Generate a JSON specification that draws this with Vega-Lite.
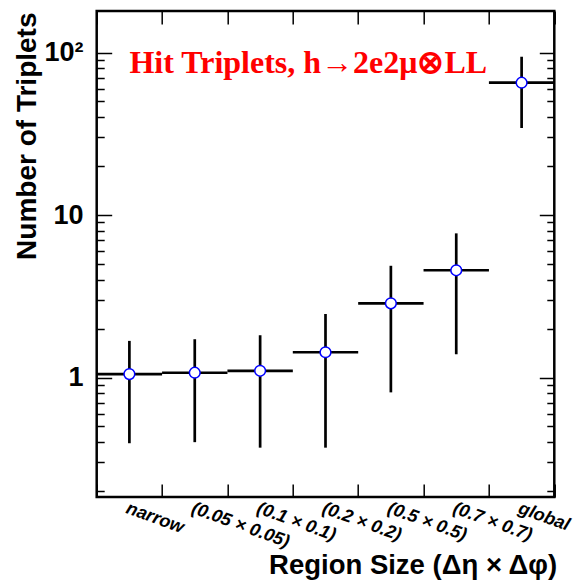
{
  "$schema": "https://vega.github.io/schema/vega-lite/v6.json",
  "width": 457.6,
  "height": 486,
  "autosize": {"type": "none"},
  "padding": {"left": 96.7, "top": 11, "right": 18.7, "bottom": 85},
  "background": "white",
  "config": {
    "view": {"stroke": "black", "strokeWidth": 2.5},
    "axis": {"grid": false, "domain": false, "tickWidth": 1.5, "labelColor": "black", "titleColor": "black"}
  },
  "datasets": {
    "pts": [
      {"region": "narrow", "value": 1.05, "lo": 0.394, "hi": 1.68},
      {"region": "(0.05 × 0.05)", "value": 1.07, "lo": 0.40, "hi": 1.72},
      {"region": "(0.1 × 0.1)", "value": 1.10, "lo": 0.37, "hi": 1.82},
      {"region": "(0.2 × 0.2)", "value": 1.43, "lo": 0.37, "hi": 2.46},
      {"region": "(0.5 × 0.5)", "value": 2.86, "lo": 0.81, "hi": 4.87},
      {"region": "(0.7 × 0.7)", "value": 4.57, "lo": 1.39, "hi": 7.71},
      {"region": "global", "value": 65.2, "lo": 34.3, "hi": 94.2}
    ],
    "note": [
      {"region": "narrow", "value": 75, "label": "Hit Triplets, h→2e2μ⊗LL"}
    ]
  },
  "layer": [
    {
      "data": {"name": "pts"},
      "mark": {"type": "rule", "strokeWidth": 2.7, "color": "black"},
      "encoding": {
        "x": {
          "field": "region", "type": "nominal",
          "scale": {"type": "band", "domain": ["narrow", "(0.05 × 0.05)", "(0.1 × 0.1)", "(0.2 × 0.2)", "(0.5 × 0.5)", "(0.7 × 0.7)", "global"], "paddingInner": 0, "paddingOuter": 0},
          "axis": {
            "orient": "bottom", "tickBand": "extent", "tickSize": -13, "tickColor": "#000000",
            "labelAngle": 20, "labelAlign": "left", "labelBaseline": "top", "labelPadding": 15,
            "labelFont": "Liberation Sans", "labelFontWeight": "bold", "labelFontStyle": "italic", "labelFontSize": 18,
            "labelOverlap": false, "labelLimit": 0, "labelBound": false,
            "title": "Region Size (Δη × Δφ)", "titleFont": "Liberation Sans", "titleFontWeight": "bold", "titleFontSize": 27.5,
            "titleX": 460, "titleY": 76.3, "titleAlign": "right", "titleBaseline": "alphabetic", "titleAnchor": null
          }
        },
        "y": {
          "field": "lo", "type": "quantitative",
          "scale": {"type": "log", "domain": [0.1839, 180.1], "nice": false},
          "axis": {
            "orient": "left",
            "values": [0.2, 0.3, 0.4, 0.5, 0.6, 0.7, 0.8, 0.9, 1, 2, 3, 4, 5, 6, 7, 8, 9, 10, 20, 30, 40, 50, 60, 70, 80, 90, 100],
            "tickColor": "#000000", "labelOverlap": false,
            "tickSize": {"condition": {"test": "datum.value == 1 || datum.value == 10 || datum.value == 100", "value": -15}, "value": -7.5},
            "labelPadding": {"condition": {"test": "datum.value == 1 || datum.value == 10 || datum.value == 100", "value": 28.7}, "value": 21.2},
            "labelExpr": "datum.value == 100 ? '10²' : (datum.value == 10 ? '10' : (datum.value == 1 ? '1' : ''))",
            "labelFont": "Liberation Sans", "labelFontWeight": "bold", "labelFontSize": 27,
            "title": "Number of Triplets", "titleFont": "Liberation Sans", "titleFontWeight": "bold", "titleFontSize": 28,
            "titleAngle": -90, "titleX": -60.7, "titleY": 1, "titleAlign": "right", "titleBaseline": "alphabetic"
          }
        },
        "y2": {"field": "hi"}
      }
    },
    {
      "data": {"name": "pts"},
      "mark": {"type": "tick", "orient": "horizontal", "thickness": 2.7, "size": 65.4, "color": "black", "opacity": 1},
      "encoding": {
        "x": {"field": "region", "type": "nominal", "axis": null},
        "y": {
          "field": "value", "type": "quantitative",
          "scale": {"type": "log", "domain": [0.1839, 180.1], "nice": false},
          "axis": null
        }
      }
    },
    {
      "data": {"name": "pts"},
      "mark": {"type": "point", "shape": "circle", "filled": true, "fill": "white", "stroke": "#0000ff", "strokeWidth": 1.5, "size": 115, "opacity": 1},
      "encoding": {
        "x": {
          "field": "region", "type": "nominal",
          "axis": {"orient": "top", "tickBand": "extent", "tickSize": -13, "tickColor": "#000000", "labels": false, "title": null}
        },
        "y": {
          "field": "value", "type": "quantitative",
          "scale": {"type": "log", "domain": [0.1839, 180.1], "nice": false},
          "axis": {
            "orient": "right",
            "values": [0.2, 0.3, 0.4, 0.5, 0.6, 0.7, 0.8, 0.9, 1, 2, 3, 4, 5, 6, 7, 8, 9, 10, 20, 30, 40, 50, 60, 70, 80, 90, 100],
            "tickColor": "#000000",
            "tickSize": {"condition": {"test": "datum.value == 1 || datum.value == 10 || datum.value == 100", "value": -15}, "value": -7.5},
            "labels": false, "title": null
          }
        }
      }
    },
    {
      "data": {"name": "note"},
      "mark": {"type": "text", "font": "Liberation Serif", "fontWeight": "bold", "fontSize": 32, "color": "#ff0000", "align": "left", "baseline": "alphabetic"},
      "encoding": {
        "x": {"field": "region", "type": "nominal", "axis": null},
        "y": {
          "field": "value", "type": "quantitative",
          "scale": {"type": "log", "domain": [0.1839, 180.1], "nice": false},
          "axis": null
        },
        "text": {"field": "label"}
      }
    }
  ],
  "resolve": {"axis": {"x": "independent", "y": "independent"}}
}
